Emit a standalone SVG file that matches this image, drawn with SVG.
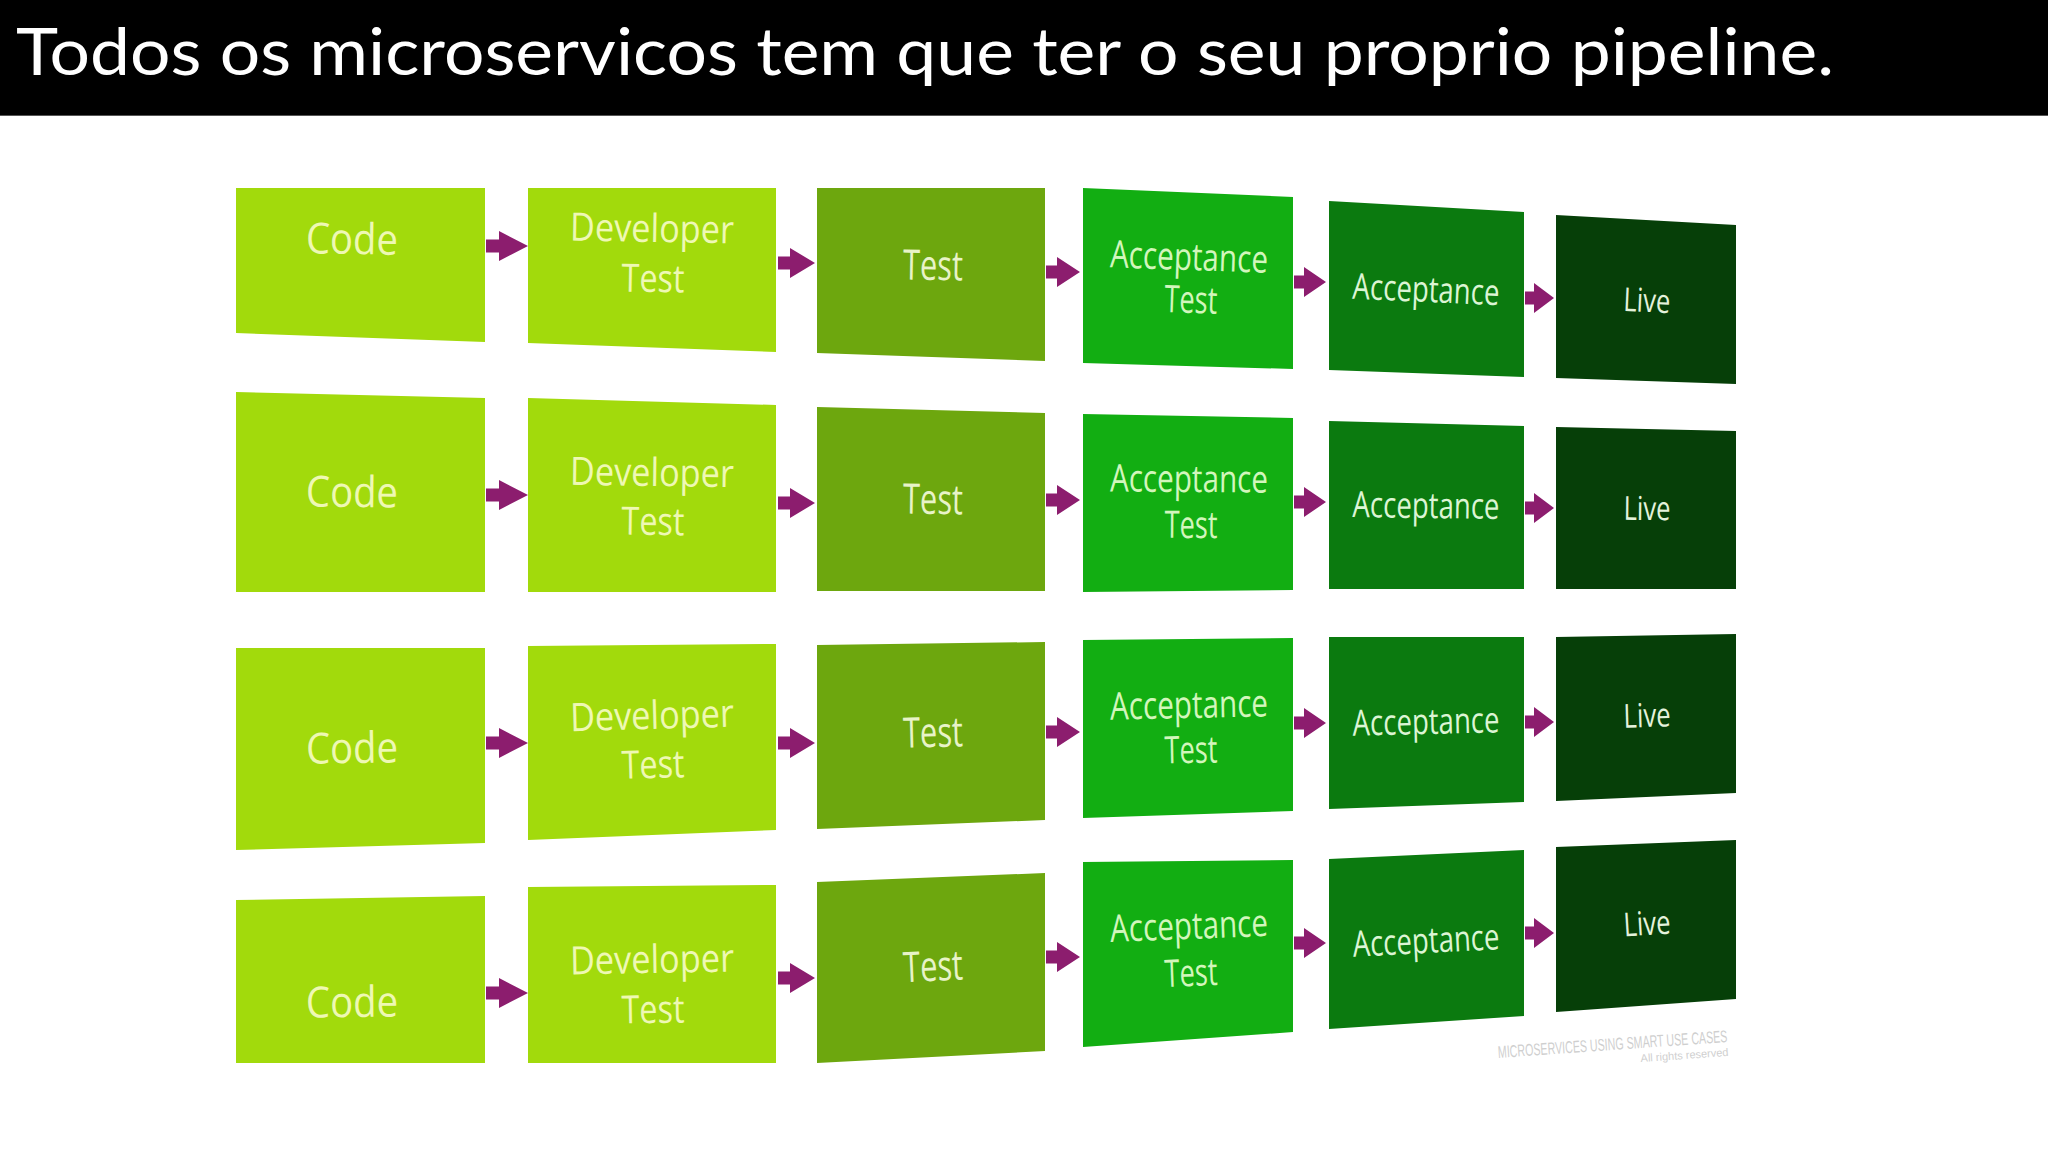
<svg xmlns="http://www.w3.org/2000/svg" width="2048" height="1152" viewBox="0 0 2048 1152">
  <style>
    .lime { fill: #a2da0c; }
    .olive { fill: #6da70e; }
    .green { fill: #12ae12; }
    .dgreen { fill: #0b7a0f; }
    .vdgreen { fill: #063f08; }
    .lbl { font-family: "Open Sans", "DejaVu Sans", sans-serif; text-anchor: middle; }
    .t1 { fill: #eef8b4; }
    .t2 { fill: #e8f3c8; }
    .t3 { fill: #d2f6bc; }
    .t4 { fill: #dcf5d4; }
    .t5 { fill: #e4f2dc; }
    .fCode { font-size: 43px; }
    .fDev { font-size: 39px; }
    .fTest { font-size: 42px; }
    .fAcc { font-size: 38px; }
    .fAcc2 { font-size: 36px; }
    .fLive { font-size: 33px; }
    .arrow { fill: #8c1d6e; }
    .wm { font-family: "Liberation Sans", sans-serif; fill: #cfcfcf; }
  </style>
  <rect x="0" y="0" width="2048" height="1152" fill="#ffffff"/>
  <g id="title">
    <rect x="0" y="0" width="2048" height="116" fill="#000000"/>
    <line x1="0" y1="115.5" x2="2048" y2="115.5" stroke="#555555" stroke-width="1"/>
    <text x="16" y="75" font-family="Lato, 'Open Sans', sans-serif" font-size="66" fill="#ffffff" textLength="1818" lengthAdjust="spacingAndGlyphs">Todos os microservicos tem que ter o seu proprio pipeline.</text>
  </g>

  <!-- Row 1 -->
  <g id="r1-code">
    <polygon class="lime" points="236,188 485,188 485,342 236,333"/>
    <text class="lbl t1 fCode" x="352" y="254" textLength="92" lengthAdjust="spacingAndGlyphs" transform="rotate(1 352 240)">Code</text>
  </g>
  <g id="r1-devtest">
    <polygon class="lime" points="528,188 776,188 776,352 528,343"/>
    <text class="lbl t1 fDev" x="652" y="242" textLength="164" lengthAdjust="spacingAndGlyphs" transform="rotate(1 652 229)">Developer</text>
    <text class="lbl t1 fDev" x="653" y="292" textLength="63" lengthAdjust="spacingAndGlyphs" transform="rotate(1 653 280)">Test</text>
  </g>
  <g id="r1-test">
    <polygon class="olive" points="817,188 1045,188 1045,361 817,353"/>
    <text class="lbl t2 fTest" x="933" y="280" textLength="60" lengthAdjust="spacingAndGlyphs" transform="rotate(1 933 266)">Test</text>
  </g>
  <g id="r1-acctest">
    <polygon class="green" points="1083,188 1293,197 1293,369 1083,363"/>
    <text class="lbl t3 fAcc" x="1189" y="270" textLength="158" lengthAdjust="spacingAndGlyphs" transform="rotate(2 1189 258)">Acceptance</text>
    <text class="lbl t3 fAcc" x="1191" y="313" textLength="53" lengthAdjust="spacingAndGlyphs" transform="rotate(2 1191 300)">Test</text>
  </g>
  <g id="r1-acceptance">
    <polygon class="dgreen" points="1329,201 1524,212 1524,377 1329,370"/>
    <text class="lbl t4 fAcc2" x="1426" y="302" textLength="147" lengthAdjust="spacingAndGlyphs" transform="rotate(2.5 1426 291)">Acceptance</text>
  </g>
  <g id="r1-live">
    <polygon class="vdgreen" points="1556,215 1736,225 1736,384 1556,378"/>
    <text class="lbl t5 fLive" x="1647" y="312" textLength="47" lengthAdjust="spacingAndGlyphs" transform="rotate(2.5 1647 300)">Live</text>
  </g>

  <!-- Row 2 -->
  <g id="r2-code">
    <polygon class="lime" points="236,392 485,398 485,592 236,592"/>
    <text class="lbl t1 fCode" x="352" y="507" textLength="92" lengthAdjust="spacingAndGlyphs" transform="rotate(0.7 352 494)">Code</text>
  </g>
  <g id="r2-devtest">
    <polygon class="lime" points="528,398 776,405 776,592 528,592"/>
    <text class="lbl t1 fDev" x="652" y="486" textLength="164" lengthAdjust="spacingAndGlyphs" transform="rotate(0.8 652 473)">Developer</text>
    <text class="lbl t1 fDev" x="653" y="535" textLength="63" lengthAdjust="spacingAndGlyphs" transform="rotate(0.8 653 522)">Test</text>
  </g>
  <g id="r2-test">
    <polygon class="olive" points="817,407 1045,413 1045,591 817,591"/>
    <text class="lbl t2 fTest" x="933" y="514" textLength="60" lengthAdjust="spacingAndGlyphs" transform="rotate(0.8 933 501)">Test</text>
  </g>
  <g id="r2-acctest">
    <polygon class="green" points="1083,414 1293,418 1293,590 1083,592"/>
    <text class="lbl t3 fAcc" x="1189" y="492" textLength="158" lengthAdjust="spacingAndGlyphs" transform="rotate(0.4 1189 480)">Acceptance</text>
    <text class="lbl t3 fAcc" x="1191" y="538" textLength="53" lengthAdjust="spacingAndGlyphs" transform="rotate(0.4 1191 526)">Test</text>
  </g>
  <g id="r2-acceptance">
    <polygon class="dgreen" points="1329,421 1524,426 1524,589 1329,589"/>
    <text class="lbl t4 fAcc2" x="1426" y="518" textLength="147" lengthAdjust="spacingAndGlyphs" transform="rotate(0.7 1426 506)">Acceptance</text>
  </g>
  <g id="r2-live">
    <polygon class="vdgreen" points="1556,427 1736,431 1736,589 1556,589"/>
    <text class="lbl t5 fLive" x="1647" y="520" textLength="47" lengthAdjust="spacingAndGlyphs" transform="rotate(0.6 1647 508)">Live</text>
  </g>

  <!-- Row 3 -->
  <g id="r3-code">
    <polygon class="lime" points="236,648 485,648 485,843 236,850"/>
    <text class="lbl t1 fCode" x="352" y="763" textLength="92" lengthAdjust="spacingAndGlyphs" transform="rotate(-0.8 352 749)">Code</text>
  </g>
  <g id="r3-devtest">
    <polygon class="lime" points="528,646 776,644 776,830 528,840"/>
    <text class="lbl t1 fDev" x="652" y="729" textLength="164" lengthAdjust="spacingAndGlyphs" transform="rotate(-1.6 652 716)">Developer</text>
    <text class="lbl t1 fDev" x="653" y="778" textLength="63" lengthAdjust="spacingAndGlyphs" transform="rotate(-1.6 653 765)">Test</text>
  </g>
  <g id="r3-test">
    <polygon class="olive" points="817,645 1045,642 1045,820 817,829"/>
    <text class="lbl t2 fTest" x="933" y="747" textLength="60" lengthAdjust="spacingAndGlyphs" transform="rotate(-1.5 933 733)">Test</text>
  </g>
  <g id="r3-acctest">
    <polygon class="green" points="1083,640 1293,638 1293,811 1083,818"/>
    <text class="lbl t3 fAcc" x="1189" y="718" textLength="158" lengthAdjust="spacingAndGlyphs" transform="rotate(-1.2 1189 706)">Acceptance</text>
    <text class="lbl t3 fAcc" x="1191" y="763" textLength="53" lengthAdjust="spacingAndGlyphs" transform="rotate(-1.2 1191 751)">Test</text>
  </g>
  <g id="r3-acceptance">
    <polygon class="dgreen" points="1329,637 1524,637 1524,802 1329,809"/>
    <text class="lbl t4 fAcc2" x="1426" y="734" textLength="147" lengthAdjust="spacingAndGlyphs" transform="rotate(-1.3 1426 722)">Acceptance</text>
  </g>
  <g id="r3-live">
    <polygon class="vdgreen" points="1556,637 1736,634 1736,793 1556,801"/>
    <text class="lbl t5 fLive" x="1647" y="727" textLength="47" lengthAdjust="spacingAndGlyphs" transform="rotate(-1.6 1647 715)">Live</text>
  </g>

  <!-- Row 4 -->
  <g id="r4-code">
    <polygon class="lime" points="236,900 485,896 485,1063 236,1063"/>
    <text class="lbl t1 fCode" x="352" y="1017" textLength="92" lengthAdjust="spacingAndGlyphs" transform="rotate(-0.5 352 1003)">Code</text>
  </g>
  <g id="r4-devtest">
    <polygon class="lime" points="528,887 776,885 776,1063 528,1063"/>
    <text class="lbl t1 fDev" x="652" y="973" textLength="164" lengthAdjust="spacingAndGlyphs" transform="rotate(-1 652 960)">Developer</text>
    <text class="lbl t1 fDev" x="653" y="1023" textLength="63" lengthAdjust="spacingAndGlyphs" transform="rotate(-1 653 1010)">Test</text>
  </g>
  <g id="r4-test">
    <polygon class="olive" points="817,882 1045,873 1045,1051 817,1063"/>
    <text class="lbl t2 fTest" x="933" y="981" textLength="60" lengthAdjust="spacingAndGlyphs" transform="rotate(-2.6 933 967)">Test</text>
  </g>
  <g id="r4-acctest">
    <polygon class="green" points="1083,862 1293,860 1293,1032 1083,1047"/>
    <text class="lbl t3 fAcc" x="1189" y="939" textLength="158" lengthAdjust="spacingAndGlyphs" transform="rotate(-2.2 1189 927)">Acceptance</text>
    <text class="lbl t3 fAcc" x="1191" y="986" textLength="53" lengthAdjust="spacingAndGlyphs" transform="rotate(-2.2 1191 974)">Test</text>
  </g>
  <g id="r4-acceptance">
    <polygon class="dgreen" points="1329,859 1524,850 1524,1016 1329,1029"/>
    <text class="lbl t4 fAcc2" x="1426" y="953" textLength="147" lengthAdjust="spacingAndGlyphs" transform="rotate(-3 1426 941)">Acceptance</text>
  </g>
  <g id="r4-live">
    <polygon class="vdgreen" points="1556,847 1736,840 1736,999 1556,1012"/>
    <text class="lbl t5 fLive" x="1647" y="935" textLength="47" lengthAdjust="spacingAndGlyphs" transform="rotate(-3.5 1647 923)">Live</text>
  </g>

  <g id="watermark" transform="rotate(-4 1612 1050)">
    <text class="wm" x="1498" y="1050" font-size="17" textLength="230" lengthAdjust="spacingAndGlyphs">MICROSERVICES USING SMART USE CASES</text>
    <text class="wm" x="1728" y="1064" font-size="11" text-anchor="end">All rights reserved</text>
  </g>

  <g id="connectors">
    <!-- Row 1 -->
    <path class="arrow" d="M486,239.5 L499,239.5 L499,231 L528,246 L499,261 L499,252.5 L486,252.5 Z"/>
    <path class="arrow" d="M778,256.5 L790,256.5 L790,248 L815,263 L790,278 L790,269.5 L778,269.5 Z"/>
    <path class="arrow" d="M1046,265.5 L1057,265.5 L1057,257 L1080,272 L1057,287 L1057,278.5 L1046,278.5 Z"/>
    <path class="arrow" d="M1294,275.5 L1304,275.5 L1304,267 L1326,282 L1304,297 L1304,288.5 L1294,288.5 Z"/>
    <path class="arrow" d="M1525,291.5 L1534,291.5 L1534,283 L1554,298 L1534,313 L1534,304.5 L1525,304.5 Z"/>
    <!-- Row 2 -->
    <path class="arrow" d="M486,488.5 L499,488.5 L499,480 L528,495 L499,510 L499,501.5 L486,501.5 Z"/>
    <path class="arrow" d="M778,496.5 L790,496.5 L790,488 L815,503 L790,518 L790,509.5 L778,509.5 Z"/>
    <path class="arrow" d="M1046,493.5 L1057,493.5 L1057,485 L1080,500 L1057,515 L1057,506.5 L1046,506.5 Z"/>
    <path class="arrow" d="M1294,495.5 L1304,495.5 L1304,487 L1326,502 L1304,517 L1304,508.5 L1294,508.5 Z"/>
    <path class="arrow" d="M1525,501.5 L1534,501.5 L1534,493 L1554,508 L1534,523 L1534,514.5 L1525,514.5 Z"/>
    <!-- Row 3 -->
    <path class="arrow" d="M486,736.5 L499,736.5 L499,728 L528,743 L499,758 L499,749.5 L486,749.5 Z"/>
    <path class="arrow" d="M778,736.5 L790,736.5 L790,728 L815,743 L790,758 L790,749.5 L778,749.5 Z"/>
    <path class="arrow" d="M1046,725.5 L1057,725.5 L1057,717 L1080,732 L1057,747 L1057,738.5 L1046,738.5 Z"/>
    <path class="arrow" d="M1294,716.5 L1304,716.5 L1304,708 L1326,723 L1304,738 L1304,729.5 L1294,729.5 Z"/>
    <path class="arrow" d="M1525,715.5 L1534,715.5 L1534,707 L1554,722 L1534,737 L1534,728.5 L1525,728.5 Z"/>
    <!-- Row 4 -->
    <path class="arrow" d="M486,986.5 L499,986.5 L499,978 L528,993 L499,1008 L499,999.5 L486,999.5 Z"/>
    <path class="arrow" d="M778,971.5 L790,971.5 L790,963 L815,978 L790,993 L790,984.5 L778,984.5 Z"/>
    <path class="arrow" d="M1046,950.5 L1057,950.5 L1057,942 L1080,957 L1057,972 L1057,963.5 L1046,963.5 Z"/>
    <path class="arrow" d="M1294,936.5 L1304,936.5 L1304,928 L1326,943 L1304,958 L1304,949.5 L1294,949.5 Z"/>
    <path class="arrow" d="M1525,926.5 L1534,926.5 L1534,918 L1554,933 L1534,948 L1534,939.5 L1525,939.5 Z"/>
  </g>
</svg>
